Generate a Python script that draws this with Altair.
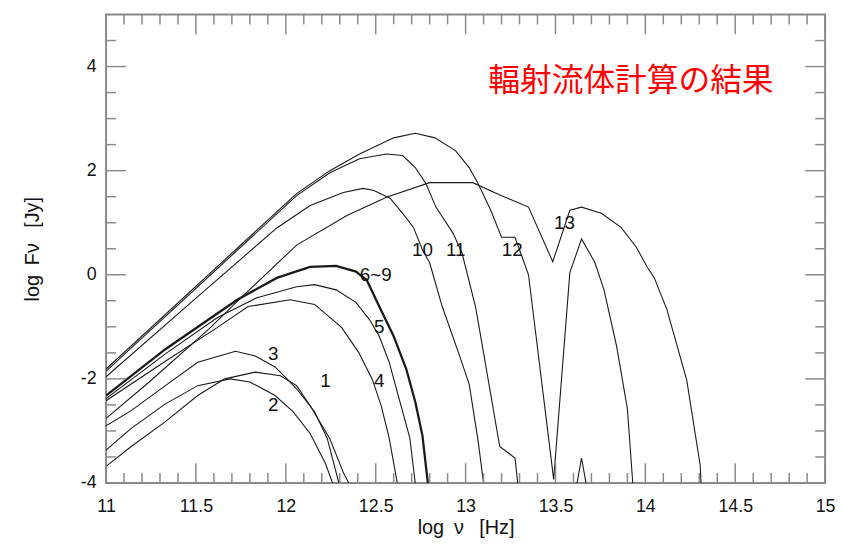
import altair as alt
import pandas as pd

# ---- curves (x = log nu [Hz], y = log F_nu [Jy]) ----
c1_x = [11.00, 11.14, 11.33, 11.51, 11.66, 11.83, 11.97, 12.06, 12.135, 12.245, 12.32, 12.35]
c1_y = [-3.68, -3.30, -2.82, -2.32, -2.00, -1.87, -1.94, -2.13, -2.51, -3.15, -3.80, -4.00]

c2_x = [11.00, 11.14, 11.33, 11.51, 11.69, 11.80, 11.94, 12.04, 12.135, 12.22, 12.26]
c2_y = [-3.37, -2.95, -2.48, -2.13, -2.00, -2.06, -2.32, -2.63, -3.05, -3.62, -4.00]

c3_x = [11.00, 11.14, 11.33, 11.51, 11.72, 11.83, 11.94, 11.99, 12.06, 12.16, 12.23, 12.295]
c3_y = [-2.90, -2.61, -2.13, -1.68, -1.47, -1.56, -1.77, -1.94, -2.19, -2.63, -3.14, -4.00]

c4_x = [11.00, 11.33, 11.62, 11.79, 12.025, 12.16, 12.31, 12.405, 12.48, 12.53, 12.575, 12.62]
c4_y = [-2.42, -1.66, -1.01, -0.61, -0.48, -0.57, -1.01, -1.49, -2.00, -2.51, -3.14, -4.00]

c5_x = [11.00, 11.33, 11.62, 11.84, 12.06, 12.16, 12.28, 12.39, 12.465, 12.52, 12.575, 12.63, 12.69, 12.72]
c5_y = [-2.38, -1.52, -0.82, -0.44, -0.23, -0.19, -0.29, -0.53, -0.86, -1.18, -1.68, -2.38, -3.14, -4.00]

c69_x = [11.00, 11.33, 11.73, 11.95, 12.135, 12.28, 12.39, 12.45, 12.52, 12.60, 12.67, 12.72, 12.76, 12.79]
c69_y = [-2.32, -1.43, -0.48, -0.06, 0.15, 0.17, 0.06, -0.10, -0.61, -1.18, -1.81, -2.44, -3.09, -4.00]

c10_x = [11.00, 11.51, 11.95, 12.135, 12.32, 12.43, 12.49, 12.58, 12.65, 12.71, 12.76, 12.80, 12.87, 12.96, 13.02, 13.07, 13.10]
c10_y = [-1.96, -0.42, 0.90, 1.33, 1.58, 1.66, 1.62, 1.47, 1.18, 0.91, 0.48, 0.23, -0.61, -1.49, -2.10, -3.20, -4.00]

c11_x = [11.00, 12.06, 12.245, 12.41, 12.56, 12.65, 12.72, 12.78, 12.835, 12.93, 12.98, 13.055, 13.08, 13.19, 13.275, 13.29,
         13.40, 13.615, 13.645, 13.675, 13.80]
c11_y = [-1.85, 1.52, 1.96, 2.23, 2.32, 2.29, 2.06, 1.75, 1.30, 0.80, 0.42, -0.61, -1.10, -3.30, -3.52, -4.00,
         -5.50, -4.10, -3.52, -4.10, -5.50]

c12_x = [11.00, 11.73, 12.06, 12.245, 12.41, 12.60, 12.72, 12.83, 12.945, 13.02, 13.07, 13.14, 13.20, 13.275, 13.35,
         13.49, 13.58, 13.645, 13.72, 13.77, 13.84, 13.90, 13.93]
c12_y = [-1.81, 0.51, 1.56, 2.00, 2.32, 2.63, 2.72, 2.63, 2.38, 2.06, 1.75, 1.24, 0.72, 0.72, 0.00,
         -3.93, 0.04, 0.69, 0.23, -0.29, -1.37, -2.57, -4.00]

c13_x = [11.00, 11.24, 11.57, 11.73, 12.06, 12.34, 12.56, 12.80, 13.04, 13.20, 13.35, 13.485, 13.58, 13.645, 13.755,
         13.865, 13.95, 14.01, 14.05, 14.12, 14.23, 14.305, 14.31]
c13_y = [-2.76, -2.06, -1.05, -0.51, 0.57, 1.14, 1.49, 1.77, 1.77, 1.52, 1.30, 0.25, 1.24, 1.30, 1.18,
         0.91, 0.53, 0.15, -0.06, -0.67, -2.02, -3.66, -4.00]

# ---- curve labels ----
lab_text = ["1", "2", "3", "4", "5", "6~9", "10", "11", "12", "13"]
lab_x = [12.22, 11.93, 11.93, 12.52, 12.52, 12.50, 12.76, 12.945, 13.26, 13.55]
lab_y = [-2.04, -2.51, -1.52, -2.04, -1.01, 0.00, 0.48, 0.48, 0.48, 0.99]

note_text = ["輻射流体計算の結果"]
note_x = [13.92]
note_y = [3.73]

# ---- axis ticks ----
x_major = [11, 11.5, 12, 12.5, 13, 13.5, 14, 14.5, 15]
x_minor = [round(11 + 0.1 * i, 1) for i in range(41) if i % 5 != 0]
y_major = [-4, -2, 0, 2, 4]
y_minor = [-3.5, -3, -2.5, -1.5, -1, -0.5, 0.5, 1, 1.5, 2.5, 3, 3.5, 4.5]

thin = [("1", c1_x, c1_y), ("2", c2_x, c2_y), ("3", c3_x, c3_y), ("4", c4_x, c4_y),
        ("5", c5_x, c5_y), ("10", c10_x, c10_y), ("11", c11_x, c11_y),
        ("12", c12_x, c12_y), ("13", c13_x, c13_y)]
rows = []
for name, xs_, ys_ in thin:
    for i, (a, b) in enumerate(zip(xs_, ys_)):
        rows.append({"curve": name, "x": a, "y": b, "o": i})
df_thin = pd.DataFrame(rows)
df_thick = pd.DataFrame({"curve": "6~9", "x": c69_x, "y": c69_y, "o": list(range(len(c69_x)))})
df_lab = pd.DataFrame({"t": lab_text, "x": lab_x, "y": lab_y})
df_note = pd.DataFrame({"t": note_text, "x": note_x, "y": note_y})

W, H = 726, 473
FONT = "Liberation Sans"
INK = "#1a1a1a"
FRAME = "#8a8a8a"

xs = alt.Scale(domain=[11, 15], nice=False, zero=False)
ys = alt.Scale(domain=[-4, 5], nice=False, zero=False)

x_axis = alt.Axis(values=x_major, ticks=False, domain=False, grid=False, format="~g", labelFlush=False,
                  labelFontSize=18, labelFont=FONT, labelColor="#111", labelPadding=15,
                  title="log\u2002ν\u2002 [Hz]", titleFont=FONT, titleFontSize=20, titleFontWeight="normal",
                  titleColor="#111", titleX=W / 2, titleY=45, titleBaseline="middle", titleAlign="center")
y_axis = alt.Axis(values=y_major, ticks=False, domain=False, grid=False, labelFlush=False,
                  labelExpr="datum.value < 0 ? '-' + abs(datum.value) : '' + datum.value",
                  labelFontSize=18, labelFont=FONT, labelColor="#111", labelPadding=10,
                  title="log\u2002Fν\u2002 [Jy]", titleFont=FONT, titleFontSize=20, titleFontWeight="normal",
                  titleColor="#111", titleX=-74, titleY=H / 2, titleAngle=-90,
                  titleBaseline="middle", titleAlign="center")

X = alt.X("x:Q", scale=xs, axis=x_axis)
Y = alt.Y("y:Q", scale=ys, axis=y_axis)

thin_lines = alt.Chart(df_thin).mark_line(clip=True, color=INK, strokeWidth=1.1).encode(
    x=X, y=Y, detail="curve:N", order="o:Q")
thick_line = alt.Chart(df_thick).mark_line(clip=True, color=INK, strokeWidth=2.3).encode(
    x=X, y=Y, order="o:Q")
labels = alt.Chart(df_lab).mark_text(font=FONT, fontSize=19, color="#111").encode(
    x=X, y=Y, text="t:N")
note = alt.Chart(df_note).mark_text(font="Noto Sans CJK JP", fontSize=32, color="#ff0000").encode(
    x=X, y=Y, text="t:N")


def xticks(vals, length):
    d = pd.DataFrame({"x": vals})
    bottom = alt.Chart(d).mark_rule(color=FRAME, strokeWidth=1.5).encode(
        x=X, y=alt.value(H), y2=alt.value(H - length))
    top = alt.Chart(d).mark_rule(color=FRAME, strokeWidth=1.5).encode(
        x=X, y=alt.value(0), y2=alt.value(length))
    return [bottom, top]


def yticks(vals, length):
    d = pd.DataFrame({"y": vals})
    left = alt.Chart(d).mark_rule(color=FRAME, strokeWidth=1.5).encode(
        y=Y, x=alt.value(0), x2=alt.value(length))
    right = alt.Chart(d).mark_rule(color=FRAME, strokeWidth=1.5).encode(
        y=Y, x=alt.value(W), x2=alt.value(W - length))
    return [left, right]


tick_layers = xticks(x_major, 20) + xticks(x_minor, 10) + yticks(y_major, 20) + yticks(y_minor, 10)

chart = alt.layer(thin_lines, thick_line, labels, note, *tick_layers).properties(
    width=W, height=H,
    autosize=alt.AutoSizeParams(type="none"),
    padding={"left": 99, "top": 4, "right": 12, "bottom": 56},
).configure_view(stroke=FRAME, strokeWidth=2)

chart.save("out.html", embed_options={"renderer": "svg", "actions": False})
